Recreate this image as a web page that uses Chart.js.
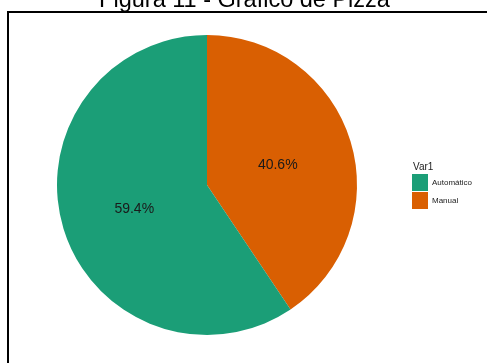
<!DOCTYPE html>
<html><head><meta charset="utf-8">
<script src="https://cdn.jsdelivr.net/npm/chart.js@4/dist/chart.umd.min.js"></script>
<style>
html,body{margin:0;padding:0;background:#fff;}
#wrap{position:relative;width:487px;height:363px;overflow:hidden;}
#frame{position:absolute;left:7px;top:11px;width:500px;height:400px;border:2px solid #000;box-sizing:border-box;}
canvas{position:absolute;left:0;top:0;}
</style></head>
<body><div id="wrap"><div id="frame"></div><canvas id="c" width="487" height="363"></canvas></div>
<script>
const titleText = "Figura 11 - Gráfico de Pizza";
const legendTitle = "Var1";
const categories = ["Manual", "Automático"];
const values = [40.6, 59.4];
const colors = ["#D95F02", "#1B9E77"];
const legendOrder = ["Automático", "Manual"];

const overlay = {
  id: 'overlay',
  afterDatasetsDraw(chart) {
    const ctx = chart.ctx;
    const meta = chart.getDatasetMeta(0);
    ctx.save();
    // percentage labels
    ctx.fillStyle = '#1a1a1a';
    ctx.font = '14px "Liberation Sans", Arial, sans-serif';
    ctx.textAlign = 'center';
    ctx.textBaseline = 'middle';
    meta.data.forEach((arc, i) => {
      const p = arc.getProps(['x','y','startAngle','endAngle','outerRadius'], true);
      const mid = (p.startAngle + p.endAngle) / 2;
      const r = p.outerRadius / 2;
      ctx.fillText(values[i].toFixed(1) + '%', p.x + Math.cos(mid) * r - 1, p.y + Math.sin(mid) * r + 2);
    });
    // title
    ctx.fillStyle = '#000';
    ctx.font = '23.5px "Liberation Sans", Arial, sans-serif';
    ctx.textBaseline = 'alphabetic';
    ctx.fillText(titleText, 244.5, 7);
    // legend
    ctx.textAlign = 'left';
    ctx.fillStyle = '#222';
    ctx.font = '10px "Liberation Sans", Arial, sans-serif';
    ctx.fillText(legendTitle, 413, 170);
    legendOrder.forEach((lab, k) => {
      const i = categories.indexOf(lab);
      const y = 174 + k * 18;
      ctx.fillStyle = colors[i];
      ctx.fillRect(412, y, 16, 17);
      ctx.fillStyle = '#222';
      ctx.font = '8px "Liberation Sans", Arial, sans-serif';
      ctx.textBaseline = 'middle';
      ctx.fillText(lab, 432, y + 9);
    });
    ctx.restore();
  }
};

new Chart(document.getElementById('c'), {
  type: 'pie',
  data: { labels: categories, datasets: [{ data: values, backgroundColor: colors, borderWidth: 0 }] },
  options: {
    responsive: false,
    animation: false,
    layout: { padding: { left: 57, top: 35, right: 130, bottom: 28 } },
    plugins: { legend: { display: false }, tooltip: { enabled: false }, title: { display: false } }
  },
  plugins: [overlay]
});
</script></body></html>
